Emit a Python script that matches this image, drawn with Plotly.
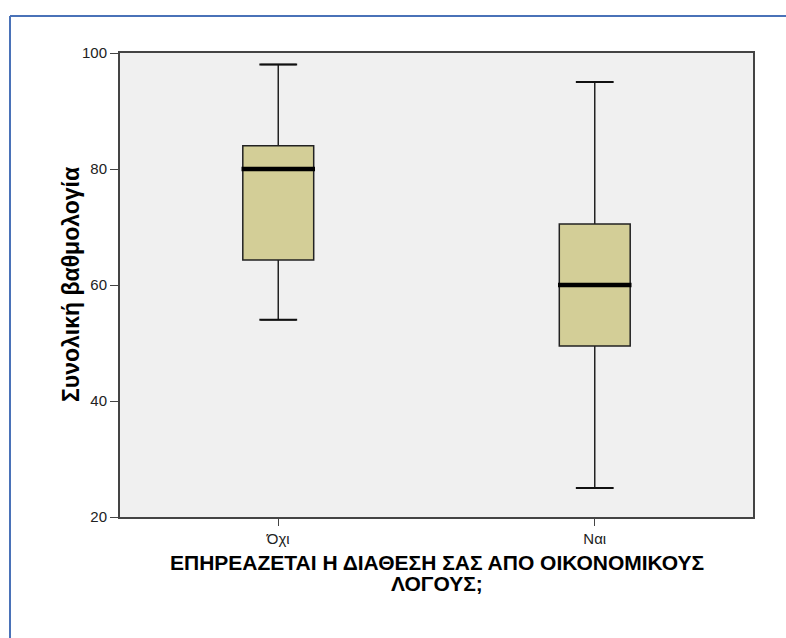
import plotly.graph_objects as go

categories = ["Όχι", "Ναι"]
lower_whisker = [54, 25]
q1_values = [64.3, 49.5]
median_values = [80, 60]
q3_values = [84, 70.5]
upper_whisker = [98, 95]

y_ticks = [20, 40, 60, 80, 100]
x_title_lines = ["ΕΠΗΡΕΑΖΕΤΑΙ Η ΔΙΑΘΕΣΗ ΣΑΣ ΑΠΟ ΟΙΚΟΝΟΜΙΚΟΥΣ", "ΛΟΓΟΥΣ;"]
y_title = "Συνολική βαθμολογία"

W, H = 786, 638
L, R, T, B = 120, 33, 53, 121
FONT = "Liberation Sans, Arial, sans-serif"

fig = go.Figure()
fig.add_trace(go.Box(
    x=categories, q1=q1_values, median=median_values, q3=q3_values,
    lowerfence=lower_whisker, upperfence=upper_whisker,
    width=0.224, fillcolor="#D3CE97",
    line=dict(color="#222222", width=1.5),
    boxpoints=False, hoverinfo="skip", showlegend=False,
))
# whisker caps
fig.add_trace(go.Scatter(
    x=categories + categories, y=lower_whisker + upper_whisker,
    mode="markers",
    marker=dict(symbol="line-ew", size=27, line=dict(color="#111111", width=2)),
    hoverinfo="skip", showlegend=False,
))
# thick median
fig.add_trace(go.Scatter(
    x=categories, y=median_values, mode="markers",
    marker=dict(symbol="line-ew", size=52.5, line=dict(color="#000000", width=4.5)),
    hoverinfo="skip", showlegend=False,
))

pw, ph = W - L - R, H - T - B
fx = lambda px: (px - L) / pw
fy = lambda py: 1 - (py - T) / ph
border = "#4A72B8"
fig.add_shape(type="line", xref="paper", yref="paper",
              x0=fx(10), x1=fx(786), y0=fy(16), y1=fy(16),
              line=dict(color=border, width=2))
fig.add_shape(type="line", xref="paper", yref="paper",
              x0=fx(10), x1=fx(10), y0=fy(16), y1=fy(638),
              line=dict(color=border, width=2))

# x-axis title as two centered lines
for line_text, ypx in zip(x_title_lines, [562, 583]):
    fig.add_annotation(text="<b>" + line_text + "</b>", xref="paper", yref="paper",
                       x=0.5, y=fy(ypx), xanchor="center", yanchor="middle",
                       showarrow=False, font=dict(size=21, color="#000000", family=FONT))
# y-axis title
fig.add_annotation(text="<b>" + y_title + "</b>", xref="paper", yref="paper",
                   x=fx(71), y=0.5, xanchor="center", yanchor="middle", textangle=-90,
                   showarrow=False, font=dict(size=23, color="#000000", family=FONT))

fig.update_layout(
    width=W, height=H,
    margin=dict(l=L, r=R, t=T, b=B, autoexpand=False),
    paper_bgcolor="white", plot_bgcolor="#F0F0F0",
    font=dict(family=FONT, color="#222222", size=15),
    xaxis=dict(
        range=[-0.5, 1.5], showgrid=False, zeroline=False,
        showline=True, linecolor="#444444", linewidth=2, mirror=True,
        ticks="outside", ticklen=7, tickcolor="#444444", tickwidth=1,
        tickfont=dict(size=15, color="#222222"),
    ),
    yaxis=dict(
        range=[20, 100], tickvals=y_ticks, showgrid=False, zeroline=False,
        showline=True, linecolor="#444444", linewidth=2, mirror=True,
        ticks="outside", ticklen=8, tickcolor="#444444", tickwidth=1,
        tickfont=dict(size=15, color="#222222"),
    ),
)

fig.write_html("out.html")
